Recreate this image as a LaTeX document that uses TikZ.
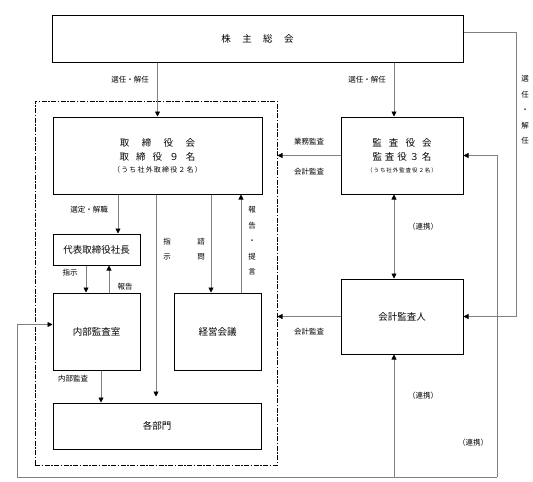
\documentclass[tikz,border=0pt]{standalone}
\usepackage{fontspec}
\setmainfont{Noto Sans CJK JP}
\usetikzlibrary{arrows.meta,positioning}

\begin{document}
\begin{tikzpicture}[x=1pt,y=-1pt,
    box/.style={draw, line width=1pt, inner sep=0pt, align=center, font=\fontsize{9.5}{14}\selectfont},
    lab/.style={inner sep=0pt, font=\fontsize{7.5}{9}\selectfont},
    vlab/.style={inner sep=0pt, align=center, font=\fontsize{7.5}{15.5}\selectfont},
    conn/.style={draw=gray, line width=0.7pt},
    arr/.style={conn, -{Triangle[length=5pt,width=5pt,color=black]}},
    darr/.style={conn, {Triangle[length=5pt,width=5pt,color=black]}-{Triangle[length=5pt,width=5pt,color=black]}}]
    \useasboundingbox (0,0) rectangle (533,482);

    % General meeting of shareholders
    \node[box, minimum width=411pt, minimum height=47pt] (gm) at (257.5,38.5)
        {株\hspace{1.2em}主\hspace{1.2em}総\hspace{1.2em}会};

    % Group frame (dash dot)
    \node[draw, line width=1pt, dash pattern=on 5pt off 1.5pt on 1.5pt off 1.5pt,
        minimum width=242pt, minimum height=364pt, inner sep=0pt] (group) at (156,283) {};

    % Board of directors
    \node[box, minimum width=209pt, minimum height=77pt] (board) at (157.5,155.5)
        {取\hspace{1.3em}締\hspace{1.3em}役\hspace{1.3em}会\\
         取\hspace{0.75em}締\hspace{0.75em}役\hspace{0.75em}９\hspace{0.75em}名\\[-2pt]
         {\fontsize{7}{9}\selectfont （\,う\,ち\,社\,外\,取\,締\,役\,２\,名\,）}};

    % Audit and supervisory board
    \node[box, minimum width=122pt, minimum height=77pt] (kansa) at (402,155.5)
        {監\hspace{0.75em}査\hspace{0.75em}役\hspace{0.75em}会\\
         監\hspace{0.3em}査\hspace{0.3em}役\hspace{0.3em}３\hspace{0.3em}名\\[-2pt]
         {\fontsize{5.5}{8}\selectfont （\,う\,ち\,社\,外\,監\,査\,役\,２\,名\,）}};

    % Accounting auditor
    \node[box, minimum width=122pt, minimum height=75pt] (kaikei) at (402,316.5) {会計監査人};

    % Representative director, internal audit, management meeting, divisions
    \node[box, minimum width=87pt, minimum height=31pt] (ceo) at (96.5,249.5) {代表取締役社長};
    \node[box, minimum width=87pt, minimum height=77pt] (naibu) at (96.5,331.5) {内部監査室};
    \node[box, minimum width=87pt, minimum height=77pt] (keiei) at (217.5,331.5) {経営会議};
    \node[box, minimum width=208pt, minimum height=46pt] (bumon) at (157,426) {各部門};

    % x positions of connectors
    \coordinate (kx) at (394,0);
    \coordinate (sx) at (118,0);
    \coordinate (ix) at (86,0);
    \coordinate (hx) at (109,0);
    \coordinate (nx) at (101,0);
    \coordinate (dx) at (156,0);
    \coordinate (qx) at (211,0);
    \coordinate (tx) at (241,0);
    \coordinate (r1) at (516,32);
    \coordinate (c1) at (497,477);
    \coordinate (c2) at (17,477);

    % Appointment / dismissal
    \draw[arr] (gm.south -| board.north) -- (board.north);
    \node[lab] (l1) at (130,80) {選任・解任};
    \draw[arr] (gm.south -| kx) -- (kansa.north -| kx);
    \node[lab] (l2) at (367,80) {選任・解任};
    \draw[arr] (gm.east |- r1) -- (r1) |- (kaikei.east);
    \node[vlab] (l3) at (525,110) {選\\任\\・\\解\\任};

    % Audits from the auditors
    \draw[arr] (kansa.west) -- (kansa.west -| group.east);
    \node[lab] (l4) at (309,142) {業務監査};
    \node[lab] (l5) at (309,172) {会計監査};
    \draw[arr] (kaikei.west) -- (kaikei.west -| group.east);
    \node[lab] (l6) at (309,332) {会計監査};

    % Cooperation
    \draw[darr] (kansa.south -| kx) -- (kaikei.north -| kx);
    \node[lab] (l7) at (423,227) {（連携）};
    \draw[arr] (c1) |- (kansa.east);
    \draw[arr] (c1) -- (c2) |- ([yshift=7pt]naibu.west);
    \draw[arr] (kx |- c1) -- (kaikei.south -| kx);
    \node[lab] (l8) at (423,396) {（連携）};
    \node[lab] (l9) at (473,443) {（連携）};

    % Inside the group
    \draw[arr] (board.south -| sx) -- (ceo.north -| sx);
    \node[lab] (l10) at (89,210) {選定・解職};
    \draw[arr] (ceo.south -| ix) -- (naibu.north -| ix);
    \node[lab] (l11) at (70,273) {指示};
    \draw[arr] (naibu.north -| hx) -- (ceo.south -| hx);
    \node[lab] (l12) at (125,287) {報告};
    \draw[arr] (naibu.south -| nx) -- (bumon.north -| nx);
    \node[lab] (l13) at (73,379) {内部監査};
    \draw[arr] (board.south -| dx) -- ([yshift=6pt]bumon.north -| dx);
    \node[vlab] (l14) at (167,249) {指\\示};
    \draw[arr] (board.south -| qx) -- (keiei.north -| qx);
    \node[vlab] (l15) at (201,249) {諮\\問};
    \draw[arr] (keiei.north -| tx) -- (board.south -| tx);
    \node[vlab] (l16) at (252,241) {報\\告\\・\\提\\言};
\end{tikzpicture}
\end{document}
